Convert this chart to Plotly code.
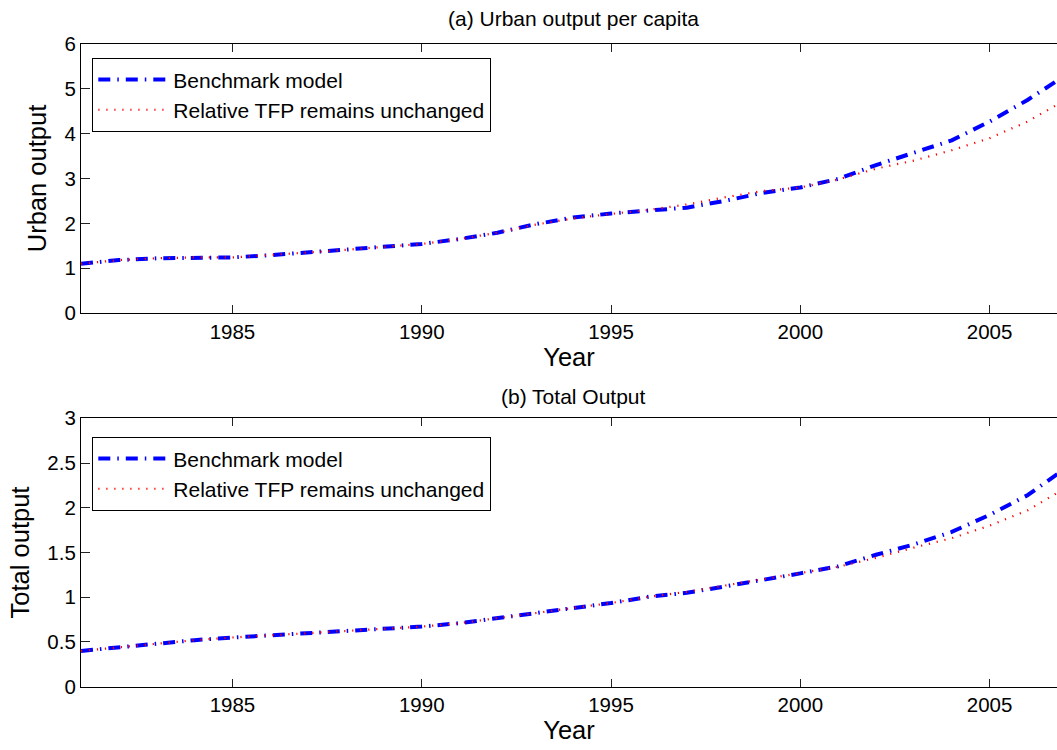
import plotly.graph_objects as go

# Annual series, 1981-2007
years = list(range(1981, 2008))

urban_benchmark = [1.10, 1.18, 1.22, 1.24, 1.24, 1.29, 1.35, 1.41, 1.47, 1.54,
                   1.65, 1.79, 1.98, 2.13, 2.22, 2.28, 2.35, 2.50, 2.68, 2.80,
                   2.99, 3.30, 3.58, 3.85, 4.27, 4.75, 5.30]
urban_tfp_fixed = [1.10, 1.18, 1.22, 1.24, 1.24, 1.29, 1.35, 1.41, 1.47, 1.54,
                   1.65, 1.79, 1.97, 2.11, 2.21, 2.30, 2.42, 2.58, 2.72, 2.80,
                   2.98, 3.22, 3.40, 3.63, 3.90, 4.27, 4.75]

total_benchmark = [0.40, 0.44, 0.485, 0.52, 0.55, 0.573, 0.60, 0.625, 0.645, 0.672,
                   0.71, 0.764, 0.82, 0.88, 0.935, 1.005, 1.05, 1.12, 1.19, 1.267,
                   1.345, 1.475, 1.59, 1.73, 1.92, 2.14, 2.44]
total_tfp_fixed = [0.40, 0.44, 0.485, 0.52, 0.55, 0.573, 0.60, 0.625, 0.645, 0.672,
                   0.71, 0.764, 0.82, 0.88, 0.935, 1.005, 1.06, 1.13, 1.20, 1.267,
                   1.34, 1.44, 1.555, 1.66, 1.80, 1.97, 2.22]

series_names = ["Benchmark model", "Relative TFP remains unchanged"]
panel_titles = ["(a) Urban output per capita", "(b) Total Output"]
y_titles = ["Urban output", "Total output"]
x_title = "Year"
x_ticks = [1985, 1990, 1995, 2000, 2005]
urban_ticks = [0, 1, 2, 3, 4, 5, 6]
total_ticks = [0, 0.5, 1, 1.5, 2, 2.5, 3]

FONT = "Liberation Sans, Arial, Helvetica, sans-serif"
W, H = 1057, 750
LEFT = 81

blue_line = dict(color="#0000ff", width=4, dash="12px,7px,1.5px,7px")
red_line = dict(color="#ff0000", width=2.2, dash="1.2px,6.8px")

fig = go.Figure()
fig.add_trace(go.Scatter(x=years, y=urban_benchmark, mode="lines", name=series_names[0],
                         line=blue_line, xaxis="x", yaxis="y", legend="legend"))
fig.add_trace(go.Scatter(x=years, y=urban_tfp_fixed, mode="lines", name=series_names[1],
                         line=red_line, xaxis="x", yaxis="y", legend="legend"))
fig.add_trace(go.Scatter(x=years, y=total_benchmark, mode="lines", name=series_names[0],
                         line=blue_line, xaxis="x2", yaxis="y2", legend="legend2"))
fig.add_trace(go.Scatter(x=years, y=total_tfp_fixed, mode="lines", name=series_names[1],
                         line=red_line, xaxis="x2", yaxis="y2", legend="legend2"))


def px_y(p):
    """Convert a pixel row (from top) to paper coordinates."""
    return 1 - p / H


x_common = dict(range=[1981, 2006.78], tickvals=x_ticks, ticks="inside", ticklen=8,
                tickwidth=1, tickcolor="#222", showline=True, linecolor="#000",
                linewidth=1.2, mirror="ticks", showgrid=False, zeroline=False,
                tickfont=dict(family=FONT, size=20.5, color="#000"),
                title=dict(text=x_title, font=dict(family=FONT, size=25.5, color="#000"),
                           standoff=4),
                automargin=False)
y_common = dict(ticks="inside", ticklen=9, tickwidth=1, tickcolor="#222",
                showline=True, linecolor="#000", linewidth=1.2, mirror=False,
                showgrid=False, zeroline=False,
                tickfont=dict(family=FONT, size=20.5, color="#000"),
                automargin=False)

legend_common = dict(x=(92 - LEFT) / (W - LEFT), xanchor="left", yanchor="top",
                     bgcolor="#fff", bordercolor="#000", borderwidth=1.3,
                     font=dict(family=FONT, size=21, color="#000"),
                     itemwidth=70, tracegroupgap=0)

fig.update_layout(
    width=W, height=H,
    margin=dict(l=LEFT, r=0, t=0, b=0),
    paper_bgcolor="#fff", plot_bgcolor="#fff",
    showlegend=True,
    xaxis=dict(x_common, anchor="y", domain=[0, 1]),
    yaxis=dict(y_common, anchor="x", domain=[px_y(313), px_y(44)], range=[0, 6],
               tickvals=urban_ticks,
               title=dict(text=y_titles[0], font=dict(family=FONT, size=25.5, color="#000"),
                          standoff=10)),
    xaxis2=dict(x_common, anchor="y2", domain=[0, 1]),
    yaxis2=dict(y_common, anchor="x2", domain=[px_y(686.7), px_y(418.3)], range=[0, 3],
                tickvals=total_ticks,
                title=dict(text=y_titles[1], font=dict(family=FONT, size=25.5, color="#000"),
                           standoff=10)),
    legend=dict(legend_common, y=px_y(58)),
    legend2=dict(legend_common, y=px_y(437)),
    annotations=[
        dict(text=panel_titles[0], xref="paper", yref="paper", x=(573.5 - LEFT) / (W - LEFT),
             y=px_y(19), xanchor="center", yanchor="middle", showarrow=False,
             font=dict(family=FONT, size=21, color="#000")),
        dict(text=panel_titles[1], xref="paper", yref="paper", x=(573.5 - LEFT) / (W - LEFT),
             y=px_y(396), xanchor="center", yanchor="middle", showarrow=False,
             font=dict(family=FONT, size=21, color="#000")),
    ],
)

fig.write_html("out.html")
